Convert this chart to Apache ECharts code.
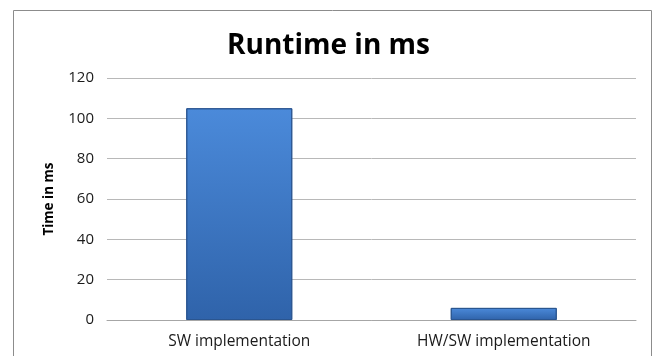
<!DOCTYPE html>
<html style="height: 100%">
<head>
    <meta charset="utf-8">
    <script src="https://cdn.jsdelivr.net/npm/echarts@6/dist/echarts.min.js"></script>
</head>
<body style="height: 100%; margin: 0; background: #fff">
    <div id="container" style="width: 657px; height: 356px"></div>
    <script type="text/javascript">
        var categories = ['SW implementation', 'HW/SW implementation'];
        var runtimeMs = [105, 6];

        var myChart = echarts.init(document.getElementById('container'));
        var option = {
            backgroundColor: '#fff',
            graphic: [{
                type: 'rect',
                shape: { x: 13.5, y: 10.5, width: 638, height: 360 },
                style: { fill: 'none', stroke: '#8c8c8c', lineWidth: 1 },
                silent: true
            }],
            title: {
                text: 'Runtime in ms',
                left: 'center',
                top: 27,
                textStyle: {
                    fontFamily: 'Open Sans',
                    fontWeight: 'bold',
                    fontSize: 28,
                    color: '#000'
                }
            },
            grid: { left: 107, right: 21, top: 78, bottom: 36 },
            xAxis: {
                type: 'category',
                data: categories,
                axisLine: { lineStyle: { color: '#a6a6a6' } },
                axisTick: { show: false },
                axisLabel: {
                    fontFamily: 'Open Sans',
                    fontSize: 15.5,
                    color: '#1a1a1a',
                    margin: 14
                }
            },
            yAxis: {
                type: 'value',
                min: 0,
                max: 120,
                interval: 20,
                name: 'Time in ms',
                nameLocation: 'middle',
                nameGap: 51,
                nameTextStyle: {
                    fontFamily: 'Open Sans',
                    fontWeight: 'bold',
                    fontSize: 13.5,
                    color: '#000'
                },
                axisLine: { show: false },
                axisTick: { show: false },
                splitLine: { lineStyle: { color: '#b8b8b8' } },
                axisLabel: {
                    fontFamily: 'Open Sans',
                    fontSize: 15,
                    color: '#1a1a1a',
                    margin: 13
                }
            },
            series: [{
                type: 'bar',
                data: runtimeMs,
                barWidth: 106,
                itemStyle: {
                    color: new echarts.graphic.LinearGradient(0, 0, 0, 1, [
                        { offset: 0, color: '#4b8ada' },
                        { offset: 1, color: '#2f63aa' }
                    ]),
                    borderColor: '#2a5590',
                    borderWidth: 1
                }
            }]
        };
        myChart.setOption(option, true);
    </script>
</body>
</html>
